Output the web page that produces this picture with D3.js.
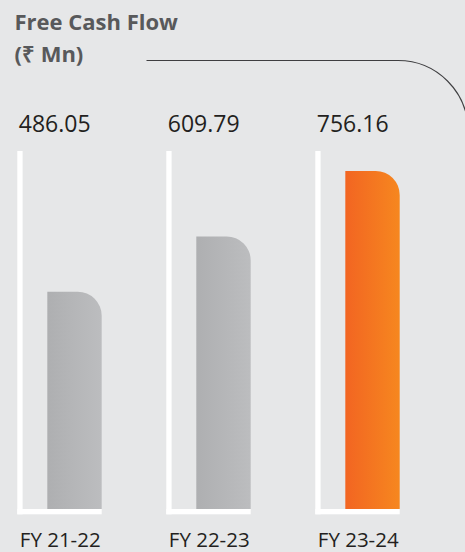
<!DOCTYPE html>
<html>
<head>
<meta charset="utf-8">
<script src="https://cdn.jsdelivr.net/npm/d3@7"></script>
<style>
  html, body { margin: 0; padding: 0; background: #e6e7e8; }
  svg { display: block; }
</style>
</head>
<body>
<svg id="chart" width="465" height="552"></svg>
<script>
const categories = ["FY 21-22", "FY 22-23", "FY 23-24"];
const values = [486.05, 609.79, 756.16];
const valueLabels = ["486.05", "609.79", "756.16"];
const highlight = [false, false, true];
const titleLines = ["Free Cash Flow", "(₹ Mn)"];

const W = 465, H = 552;
const svg = d3.select("#chart");
svg.append("rect").attr("width", W).attr("height", H).attr("fill", "#e6e7e8");

const defs = svg.append("defs");
const gGray = defs.append("linearGradient").attr("id", "gGray").attr("x1", "0").attr("x2", "1").attr("y1", "0").attr("y2", "0");
gGray.append("stop").attr("offset", "0%").attr("stop-color", "#aeafb1");
gGray.append("stop").attr("offset", "100%").attr("stop-color", "#bcbdbf");
const gOr = defs.append("linearGradient").attr("id", "gOr").attr("x1", "0").attr("x2", "1").attr("y1", "0").attr("y2", "0");
gOr.append("stop").attr("offset", "0%").attr("stop-color", "#f26522");
gOr.append("stop").attr("offset", "100%").attr("stop-color", "#f6871f");

const x = d3.scaleBand().domain(categories).range([17.3, 399.7]).paddingInner(0.4336).paddingOuter(0);
const y = d3.scaleLinear().domain([0, d3.max(values)]).range([509, 171]);

const bw = x.bandwidth();
const barOffset = 30;
const barW = bw - barOffset;
const r = 24;

// Title
const title = svg.append("text").attr("font-family", "'Open Sans', sans-serif")
  .attr("font-weight", 700).attr("font-size", 22).attr("fill", "#58595b");
title.append("tspan").attr("x", 14.5).attr("y", 29.5).text(titleLines[0]);
title.append("tspan").attr("x", 14.5).attr("y", 61.5).text(titleLines[1]);

// Decorative line with curve
const lineY = 60.5, cx = 398, rad = 70;
svg.append("path")
  .attr("d", `M146.5,${lineY} H${cx} A${rad},${rad} 0 0 1 ${cx + rad},${lineY + rad}`)
  .attr("fill", "none").attr("stroke", "#3f3f41").attr("stroke-width", 1.1);

const groups = svg.selectAll("g.bar").data(categories).join("g").attr("class", "bar");

// white L frame
groups.append("rect")
  .attr("x", d => x(d)).attr("y", 151).attr("width", 5.3).attr("height", 514.3 - 151)
  .attr("fill", "#ffffff");
groups.append("rect")
  .attr("x", d => x(d)).attr("y", 509).attr("width", bw).attr("height", 5.3)
  .attr("fill", "#ffffff");

// bars with rounded top-right corner
groups.append("path")
  .attr("d", (d, i) => {
    const x0 = x(d) + barOffset, x1 = x0 + barW;
    const yt = y(values[i]), yb = y(0);
    return `M${x0},${yb} V${yt} H${x1 - r} A${r},${r} 0 0 1 ${x1},${yt + r} V${yb} Z`;
  })
  .attr("fill", (d, i) => highlight[i] ? "url(#gOr)" : "url(#gGray)");

// value labels
groups.append("text")
  .attr("x", d => x(d) + 1.5).attr("y", 132)
  .attr("font-family", "'Open Sans', sans-serif").attr("font-size", 23)
  .attr("fill", "#231f20")
  .text((d, i) => valueLabels[i]);

// category labels
groups.append("text")
  .attr("x", d => x(d) + 2.5).attr("y", 547.3)
  .attr("font-family", "'Open Sans', sans-serif").attr("font-size", 20.5)
  .attr("fill", "#231f20")
  .text(d => d);
</script>
</body>
</html>
